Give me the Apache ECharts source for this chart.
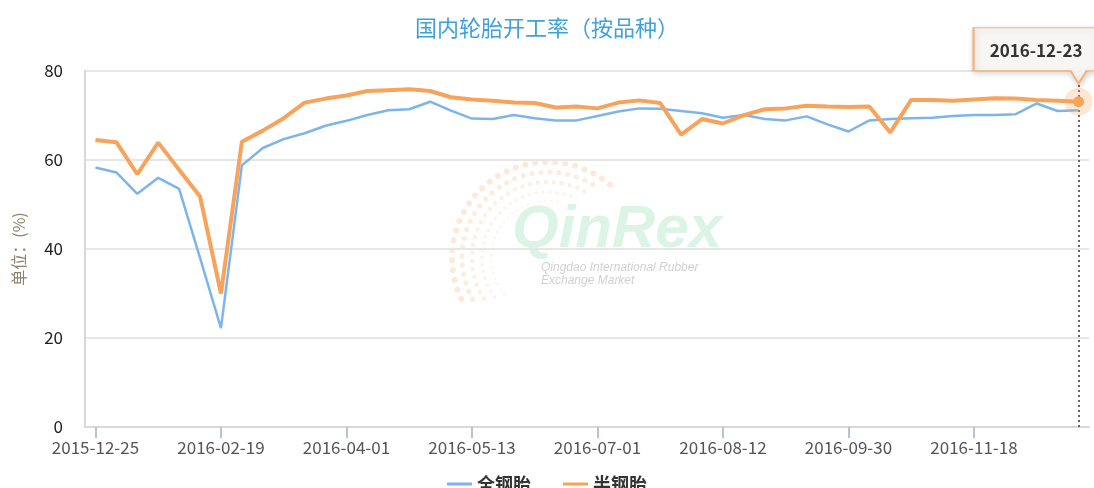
<!DOCTYPE html>
<html>
<head>
<meta charset="utf-8">
<script src="https://cdn.jsdelivr.net/npm/echarts@6/dist/echarts.min.js"></script>
<style>
html, body { margin: 0; padding: 0; background: #fff; overflow: hidden; }
#chart { width: 1094px; height: 488px; }
</style>
</head>
<body>
<div id="chart"></div>
<script>
// 日期（周度，节假日缺数据）
var dates = [
  "2015-12-25", "2016-01-08", "2016-01-15", "2016-01-22", "2016-01-29", "2016-02-05",
  "2016-02-19", "2016-02-26", "2016-03-04", "2016-03-11", "2016-03-18", "2016-03-25",
  "2016-04-01", "2016-04-08", "2016-04-15", "2016-04-22", "2016-04-29", "2016-05-06",
  "2016-05-13", "2016-05-20", "2016-05-27", "2016-06-03", "2016-06-17", "2016-06-24",
  "2016-07-01", "2016-07-08", "2016-07-15", "2016-07-22", "2016-07-29", "2016-08-05",
  "2016-08-12", "2016-08-19", "2016-08-26", "2016-09-02", "2016-09-09", "2016-09-23",
  "2016-09-30", "2016-10-14", "2016-10-21", "2016-10-28", "2016-11-04", "2016-11-11",
  "2016-11-18", "2016-11-25", "2016-12-02", "2016-12-09", "2016-12-16", "2016-12-23"
];
// 全钢胎
var allSteel = [
  58.3, 57.2, 52.4, 56.0, 53.5, 38.0,
  22.2, 58.8, 62.7, 64.7, 66.0, 67.7,
  68.8, 70.1, 71.2, 71.4, 73.1, 71.1,
  69.3, 69.2, 70.1, 69.4, 68.9, 68.9,
  69.9, 70.9, 71.6, 71.5, 71.0, 70.5,
  69.5, 70.1, 69.2, 68.9, 69.8, 68.0,
  66.4, 68.9, 69.2, 69.4, 69.5, 69.9,
  70.1, 70.1, 70.3, 72.7, 71.0, 71.2
];
// 半钢胎
var semiSteel = [
  64.5, 64.0, 56.8, 63.9, 57.8, 51.8,
  30.0, 64.1, 66.6, 69.4, 72.9, 73.8,
  74.5, 75.5, 75.7, 75.9, 75.5, 74.1,
  73.6, 73.3, 72.9, 72.8, 71.8, 72.0,
  71.6, 72.9, 73.4, 72.8, 65.7, 69.2,
  68.2, 70.1, 71.4, 71.6, 72.2, 72.0,
  71.9, 72.0, 66.2, 73.5, 73.5, 73.3,
  73.6, 73.9, 73.8, 73.5, 73.3, 73.1
];
var yTicks = [0, 20, 40, 60, 80];

var font = "Noto Sans CJK SC";
var last = dates.length - 1;

// 最后一个点实心圆
var semiData = [];
for (let i = 0; i < semiSteel.length; i++) {
  if (i === last) {
    semiData.push({
      value: semiSteel[i],
      symbol: "circle",
      symbolSize: 11,
      itemStyle: { color: "#f7a35c", borderWidth: 0 }
    });
  } else {
    semiData.push(semiSteel[i]);
  }
}

// 水印圆点弧
var dotArcs = [];
var radii = [96, 86, 76, 66, 57];
for (let i = 0; i < radii.length; i++) {
  dotArcs.push({
    type: "arc",
    silent: true,
    z: -10,
    shape: { cx: 548, cy: 258, r: radii[i], startAngle: Math.PI * (0.86 - i * 0.02), endAngle: Math.PI * (1.74 - i * 0.04), clockwise: true },
    style: {
      fill: null,
      stroke: "rgba(250,185,140," + (0.32 - i * 0.045) + ")",
      lineWidth: 6 - i * 0.8,
      lineDash: [0, 10 - i],
      lineCap: "round"
    }
  });
}

var option = {
  animation: false,
  textStyle: { fontFamily: font },
  title: {
    text: "国内轮胎开工率（按品种）",
    left: "center",
    top: 12,
    textStyle: { color: "#3fa0dc", fontSize: 22, fontWeight: "normal", fontFamily: font }
  },
  legend: {
    data: ["全钢胎", "半钢胎"],
    left: "center",
    top: 470,
    icon: "rect",
    itemWidth: 25,
    itemHeight: 3,
    itemGap: 32,
    textStyle: { color: "#333", fontSize: 18, fontWeight: "bold", fontFamily: font }
  },
  grid: { left: 85, right: 5, top: 71, bottom: 61 },
  xAxis: {
    type: "category",
    data: dates,
    boundaryGap: true,
    axisLine: { lineStyle: { color: "#d8d8d8", width: 2 } },
    axisTick: { show: true, alignWithLabel: true, interval: 5, length: 11, lineStyle: { color: "#b4c2dc", width: 2 } },
    axisLabel: { interval: 5, color: "#555", fontSize: 17, margin: 12, fontFamily: font },
    splitLine: { show: false }
  },
  yAxis: {
    type: "value",
    min: yTicks[0],
    max: yTicks[yTicks.length - 1],
    interval: yTicks[1] - yTicks[0],
    name: "单位：(%)",
    nameLocation: "middle",
    nameRotate: 90,
    nameGap: 58,
    nameTextStyle: { color: "#8f806d", fontSize: 16, fontFamily: font },
    axisLine: { show: true, lineStyle: { color: "#d8d8d8", width: 2 } },
    axisTick: { show: false },
    axisLabel: { color: "#222", fontSize: 17, margin: 22, fontFamily: font },
    splitLine: { lineStyle: { color: "#e6e6e6", width: 2 } }
  },
  graphic: dotArcs.concat([
    {
      type: "text",
      silent: true,
      z: -9,
      left: 512,
      top: 200,
      style: { text: "QinRex", font: "italic bold 60px 'Liberation Sans'", fill: "rgba(130,215,165,0.28)" }
    },
    {
      type: "text",
      silent: true,
      z: -9,
      left: 541,
      top: 261,
      style: { text: "Qingdao International Rubber\nExchange Market", font: "italic 12px 'Liberation Sans'", lineHeight: 13, fill: "rgba(150,150,150,0.45)" }
    }
  ]),
  series: [
    {
      name: "全钢胎",
      type: "line",
      data: allSteel,
      showSymbol: false,
      color: "#7cb5ec",
      lineStyle: { color: "#7cb5ec", width: 2.5 },
      emphasis: { disabled: true },
      markLine: {
        silent: true,
        z: 1,
        symbol: "none",
        label: { show: false },
        lineStyle: { color: "#666", width: 2, type: [2, 3] },
        data: [{ xAxis: dates[last] }]
      }
    },
    {
      name: "半钢胎",
      type: "line",
      data: semiData,
      showSymbol: true,
      showAllSymbol: true,
      symbol: "none",
      color: "#f7a35c",
      lineStyle: { color: "#f7a35c", width: 4 },
      emphasis: { disabled: true },
      markPoint: {
        silent: true,
        data: [
          {
            // 光圈
            coord: [dates[last], semiSteel[last]],
            symbol: "circle",
            symbolSize: 28,
            symbolOffset: [0, 0],
            itemStyle: { color: "rgba(247,163,92,0.25)", borderWidth: 0, shadowBlur: 0 },
            label: { show: false }
          },
          {
            // 提示框
            coord: [dates[last], semiSteel[last]],
            symbol: "path://M0,0 L125,0 L125,43 L113,43 L105,56 L97,43 L0,43 Z",
            symbolSize: [125, 56],
            symbolOffset: [-42.5, -46],
            itemStyle: {
              color: "rgba(250,248,245,0.95)",
              borderColor: "#f5b27a",
              borderWidth: 1.5,
              shadowBlur: 6,
              shadowColor: "rgba(0,0,0,0.18)",
              shadowOffsetX: 1,
              shadowOffsetY: 2
            },
            label: {
              show: true,
              position: "inside",
              offset: [0, -5],
              formatter: dates[last],
              color: "#333",
              fontSize: 17,
              fontWeight: "bold",
              fontFamily: font
            }
          }
        ]
      }
    }
  ]
};

var myChart = echarts.init(document.getElementById("chart"));
myChart.setOption(option);
</script>
</body>
</html>
